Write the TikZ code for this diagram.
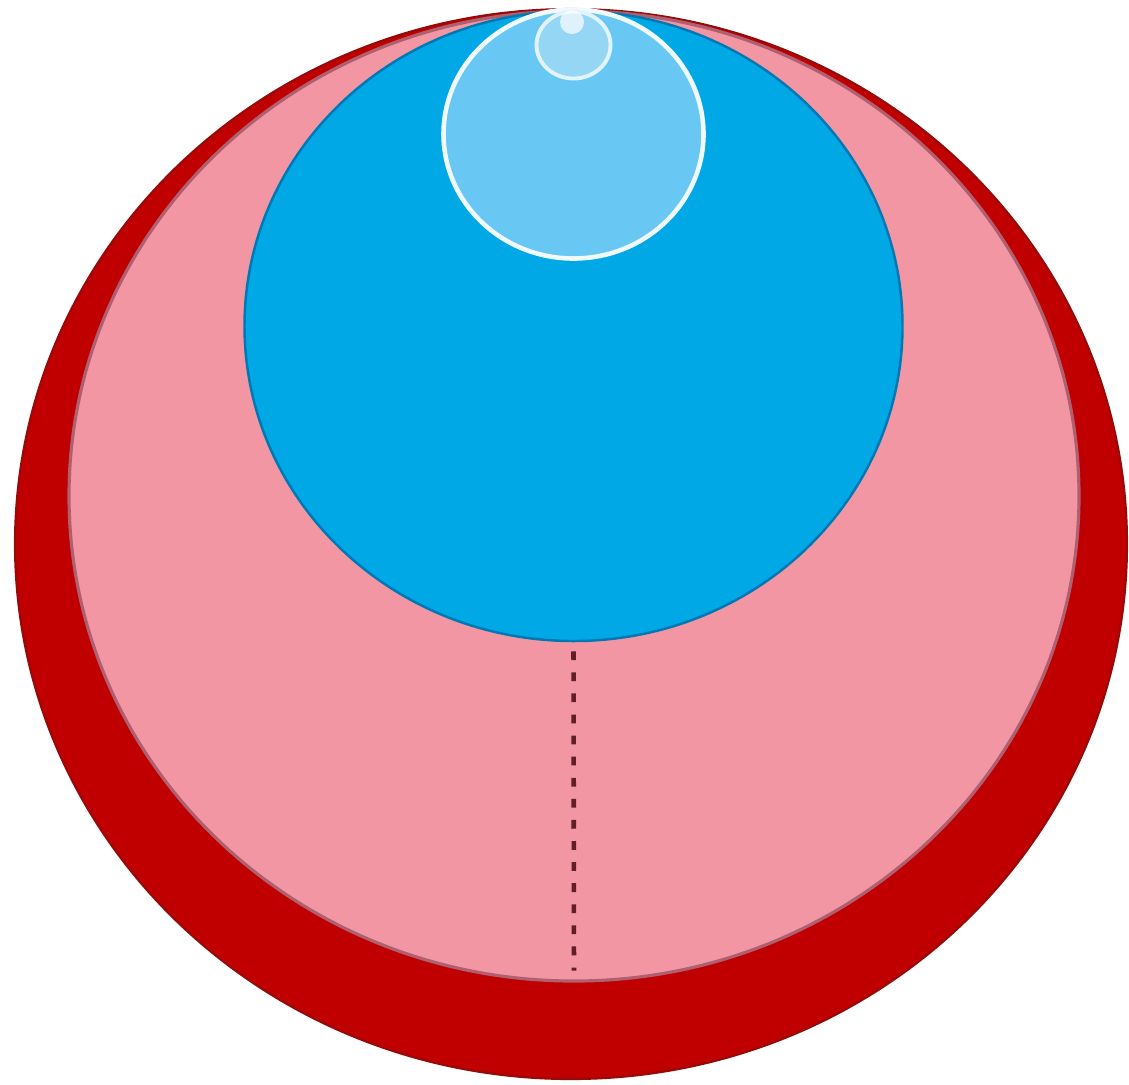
\documentclass[tikz,border=0pt]{standalone}
\usepackage{xcolor}
\definecolor{shellred}{RGB}{192,0,0}
\definecolor{shelledge}{RGB}{150,10,10}
\definecolor{flesh}{RGB}{242,150,163}
\definecolor{fleshedge}{RGB}{175,95,112}
\definecolor{core}{RGB}{0,168,230}
\definecolor{coreedge}{RGB}{0,120,180}
\definecolor{pale}{RGB}{104,200,243}
\definecolor{paler}{RGB}{150,214,245}
\definecolor{seam}{RGB}{95,30,40}
\usepackage{tikz}
\usetikzlibrary{shapes.geometric}

\begin{document}
\begin{tikzpicture}[
  layer/.style={ellipse, inner sep=0pt},
  seamline/.style={draw=seam, line width=1.3pt, dash pattern=on 2.5pt off 3.5pt}]
\useasboundingbox (0,0) rectangle (11.29,-10.84);
\node[layer, fill=shellred, draw=shelledge, line width=0.6pt, minimum width=11.12cm, minimum height=10.70cm] (shell) at (5.71,-5.44) {};
\node[layer, fill=flesh, draw=fleshedge, line width=0.9pt, minimum width=10.10cm, minimum height=9.70cm] (pink) at (5.74,-4.96) {};
\node[layer, fill=core, draw=coreedge, line width=0.7pt, minimum width=6.58cm, minimum height=6.30cm] (blue) at (5.735,-3.26) {};
\node[layer, fill=pale, draw=white!90!pale, line width=1.3pt, minimum width=2.60cm, minimum height=2.49cm] (light) at (5.735,-1.34) {};
\node[layer, fill=paler, draw=white!80!pale, line width=1.1pt, minimum width=0.74cm, minimum height=0.67cm] (small) at (5.735,-0.45) {};
\node[circle, inner sep=0pt, fill=white, opacity=0.7, minimum size=0.24cm] (tiny) at (5.72,-0.22) {};
\draw[seamline, shorten <=0.09cm, shorten >=0.12cm] (blue.south) -- (pink.south);
\end{tikzpicture}
\end{document}
